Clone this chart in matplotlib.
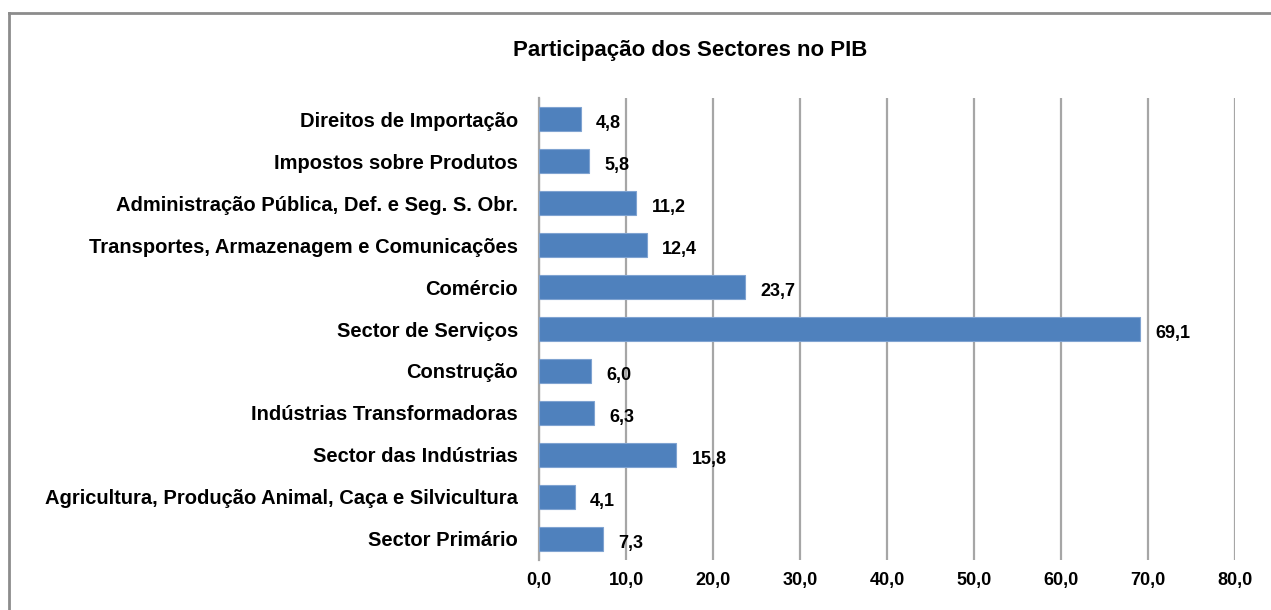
import matplotlib
matplotlib.use("Agg")
import matplotlib.pyplot as plt
from matplotlib.lines import Line2D

plt.rcParams['font.family'] = ['Liberation Sans', 'DejaVu Sans']

# categories from bottom to top
sectores = [
    "Sector Primário",
    "Agricultura, Produção Animal, Caça e Silvicultura",
    "Sector das Indústrias",
    "Indústrias Transformadoras",
    "Construção",
    "Sector de Serviços",
    "Comércio",
    "Transportes, Armazenagem e Comunicações",
    "Administração Pública, Def. e Seg. S. Obr.",
    "Impostos sobre Produtos",
    "Direitos de Importação",
]
valores = [7.3, 4.1, 15.8, 6.3, 6.0, 69.1, 23.7, 12.4, 11.2, 5.8, 4.8]
xticks = [0, 10, 20, 30, 40, 50, 60, 70, 80]

def virgula(v):
    return f"{v:.1f}".replace(".", ",")

fig = plt.figure(figsize=(12.71, 6.10), dpi=100)
ax = fig.add_axes([0.4241, 0.082, 0.5476, 0.7573])

pos = list(range(len(sectores)))
ax.barh(pos, valores, height=0.57, color="#4F81BD", edgecolor="#7FA3D1", linewidth=0.8, zorder=3)

for p, v in zip(pos, valores):
    ax.annotate(virgula(v), (v, p), xytext=(11, -3), textcoords="offset points",
                va="center", ha="left", fontsize=13, fontweight="bold", zorder=4)

ax.set_xlim(0, 80)
ax.set_ylim(-0.5, len(sectores) - 0.5)
ax.set_xticks(xticks)
ax.set_xticklabels([virgula(t) for t in xticks], fontsize=13, fontweight="bold")
ax.set_yticks(pos)
ax.set_yticklabels(sectores, fontsize=14.5, fontweight="bold")
ax.tick_params(axis="y", length=0, pad=15)
ax.tick_params(axis="x", length=0, pad=9)
ax.grid(axis="x", color="#A6A6A6", linewidth=1.6, zorder=0)
for s in ["top", "right", "bottom"]:
    ax.spines[s].set_visible(False)
ax.spines["left"].set_color("#A6A6A6")
ax.spines["left"].set_linewidth(1.6)

fig.text(0.543, 0.918, "Participação dos Sectores no PIB", ha="center", va="center",
         fontsize=16, fontweight="bold")

# chart border (cut off on the right and bottom in the original)
fig.add_artist(Line2D([8.5 / 1271, 8.5 / 1271], [0, 1 - 12.5 / 610], color="#8C8C8C", linewidth=2))
fig.add_artist(Line2D([8.5 / 1271, 1], [1 - 12.5 / 610, 1 - 12.5 / 610], color="#8C8C8C", linewidth=2))

fig.savefig("out.png", dpi=100)
